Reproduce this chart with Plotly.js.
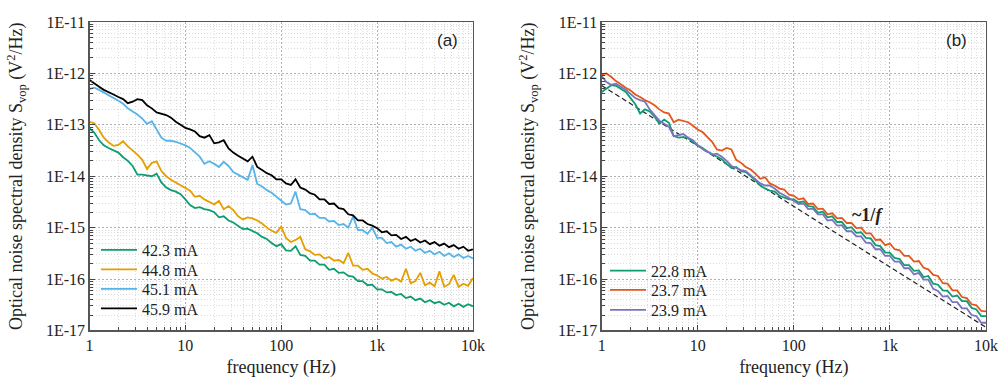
<!DOCTYPE html>
<html>
<head>
<meta charset="utf-8">
<script src="https://cdn.plot.ly/plotly-3.0.1.min.js"></script>
<style>
  html, body { margin: 0; padding: 0; background: #fff; }
  #chart { width: 1008px; height: 379px; }
</style>
</head>
<body>
<div id="chart"></div>
<script>
// Frequency points (Hz)
const freq = [1, 1.12, 1.26, 1.41, 1.58, 1.78, 2, 2.24, 2.51, 2.82, 3.16, 3.55, 3.98, 4.47, 5.01, 5.62, 6.31, 7.08, 7.94, 8.91,
  10, 11.2, 12.6, 14.1, 15.8, 17.8, 20, 22.4, 25.1, 28.2, 31.6, 35.5, 39.8, 44.7, 50.1, 56.2, 63.1, 70.8, 79.4, 89.1,
  100, 112, 126, 141, 158, 178, 200, 224, 251, 282, 316, 355, 398, 447, 501, 562, 631, 708, 794, 891,
  1000, 1120, 1260, 1410, 1580, 1780, 2000, 2240, 2510, 2820, 3160, 3550, 3980, 4470, 5010, 5620, 6310, 7080, 7940, 8910, 10000];

// Panel (a): log10 of S_vop (V^2/Hz)
const a_labels = ['42.3 mA', '44.8 mA', '45.1 mA', '45.9 mA'];
const a_423 = [-13.07,-13.15,-13.30,-13.40,-13.45,-13.49,-13.54,-13.63,-13.70,-13.80,-13.97,-13.97,-13.99,-14.00,-13.95,-14.12,-14.22,-14.27,-14.30,-14.35,
  -14.45,-14.56,-14.62,-14.60,-14.64,-14.66,-14.70,-14.80,-14.78,-14.86,-14.90,-14.96,-15.03,-15.02,-15.06,-15.11,-15.18,-15.22,-15.30,-15.36,
  -15.32,-15.44,-15.45,-15.36,-15.53,-15.55,-15.64,-15.64,-15.72,-15.72,-15.82,-15.80,-15.88,-15.87,-15.94,-15.95,-16.04,-16.04,-16.12,-16.11,
  -16.20,-16.20,-16.26,-16.25,-16.31,-16.29,-16.37,-16.34,-16.41,-16.38,-16.45,-16.41,-16.47,-16.44,-16.50,-16.46,-16.53,-16.48,-16.54,-16.49,-16.53];
const a_448 = [-12.94,-12.97,-13.10,-13.25,-13.34,-13.41,-13.39,-13.32,-13.42,-13.50,-13.58,-13.68,-13.86,-13.74,-13.71,-13.90,-14.00,-14.07,-14.12,-14.18,
  -14.22,-14.28,-14.40,-14.38,-14.45,-14.50,-14.55,-14.48,-14.64,-14.58,-14.66,-14.78,-14.84,-14.80,-14.82,-14.86,-14.92,-15.00,-15.06,-15.10,
  -14.98,-15.20,-15.28,-15.24,-15.18,-15.42,-15.46,-15.53,-15.52,-15.60,-15.57,-15.64,-15.63,-15.69,-15.49,-15.74,-15.74,-15.82,-15.80,-15.89,
  -15.93,-15.99,-15.96,-16.03,-15.99,-16.05,-15.80,-16.08,-16.04,-15.88,-16.12,-16.07,-16.14,-15.85,-16.15,-16.10,-15.92,-16.15,-16.09,-16.13,-15.98];
const a_451 = [-12.30,-12.28,-12.32,-12.37,-12.41,-12.47,-12.53,-12.59,-12.68,-12.74,-12.80,-12.88,-12.98,-12.93,-13.10,-13.25,-13.31,-13.31,-13.33,-13.36,
  -13.40,-13.45,-13.53,-13.62,-13.76,-13.71,-13.76,-13.82,-13.72,-13.80,-13.92,-13.97,-14.03,-14.07,-13.78,-14.15,-14.20,-14.27,-14.32,-14.40,
  -14.48,-14.55,-14.53,-14.30,-14.64,-14.66,-14.74,-14.73,-14.81,-14.81,-14.88,-14.87,-14.95,-14.93,-15.00,-14.78,-15.05,-15.05,-15.12,-15.00,
  -15.20,-15.20,-15.30,-15.28,-15.37,-15.33,-15.41,-15.37,-15.45,-15.41,-15.49,-15.45,-15.52,-15.47,-15.55,-15.50,-15.57,-15.52,-15.59,-15.55,-15.60];
const a_459 = [-12.13,-12.20,-12.26,-12.32,-12.36,-12.41,-12.46,-12.50,-12.58,-12.55,-12.50,-12.52,-12.62,-12.68,-12.76,-12.79,-12.81,-12.86,-12.94,-13.00,
  -13.06,-13.09,-13.13,-13.22,-13.25,-13.20,-13.36,-13.34,-13.30,-13.46,-13.54,-13.60,-13.66,-13.71,-13.62,-13.82,-13.88,-13.94,-13.98,-14.06,
  -14.06,-14.14,-14.17,-14.06,-14.22,-14.26,-14.33,-14.36,-14.45,-14.45,-14.54,-14.53,-14.62,-14.64,-14.74,-14.76,-14.86,-14.86,-14.93,-14.96,
  -15.01,-15.09,-15.07,-15.15,-15.14,-15.22,-15.18,-15.26,-15.22,-15.29,-15.25,-15.32,-15.28,-15.35,-15.31,-15.38,-15.34,-15.41,-15.37,-15.45,-15.42];

// Panel (b): log10 of S_vop (V^2/Hz)
const b_labels = ['22.8 mA', '23.7 mA', '23.9 mA'];
const b_228 = [-12.36,-12.29,-12.23,-12.24,-12.30,-12.36,-12.48,-12.60,-12.78,-12.70,-12.74,-12.84,-12.98,-12.90,-12.96,-13.22,-13.25,-13.24,-13.26,-13.34,
  -13.40,-13.45,-13.52,-13.57,-13.62,-13.67,-13.76,-13.84,-13.82,-13.90,-13.92,-14.00,-14.08,-14.18,-14.24,-14.28,-14.30,-14.38,-14.42,-14.45,
  -14.45,-14.51,-14.49,-14.58,-14.59,-14.71,-14.69,-14.80,-14.78,-14.89,-14.89,-15.01,-14.99,-15.10,-15.09,-15.20,-15.21,-15.34,-15.36,-15.48,
  -15.49,-15.59,-15.61,-15.73,-15.73,-15.84,-15.83,-15.96,-15.94,-16.09,-16.11,-16.22,-16.23,-16.34,-16.32,-16.43,-16.43,-16.56,-16.59,-16.72,-16.72];
const b_237 = [-12.02,-12.00,-12.07,-12.15,-12.21,-12.28,-12.33,-12.41,-12.46,-12.52,-12.56,-12.62,-12.70,-12.76,-12.78,-12.95,-12.90,-12.92,-12.95,-13.02,
  -13.09,-13.14,-13.24,-13.33,-13.48,-13.50,-13.45,-13.48,-13.68,-13.74,-13.82,-13.87,-13.95,-14.05,-14.02,-14.14,-14.18,-14.24,-14.26,-14.36,
  -14.38,-14.45,-14.43,-14.54,-14.53,-14.64,-14.63,-14.74,-14.72,-14.82,-14.81,-14.91,-14.91,-15.01,-15.00,-15.11,-15.11,-15.24,-15.23,-15.34,
  -15.31,-15.42,-15.44,-15.55,-15.55,-15.66,-15.65,-15.78,-15.81,-15.92,-15.94,-16.08,-16.09,-16.22,-16.22,-16.35,-16.37,-16.49,-16.51,-16.62,-16.63];
const b_239 = [-12.05,-12.17,-12.22,-12.20,-12.26,-12.32,-12.40,-12.48,-12.52,-12.55,-12.70,-12.82,-12.92,-12.98,-13.04,-13.22,-13.20,-13.18,-13.25,-13.30,
  -13.40,-13.47,-13.52,-13.58,-13.56,-13.62,-13.70,-13.80,-13.84,-13.88,-13.90,-13.98,-14.06,-14.14,-14.18,-14.18,-14.24,-14.32,-14.37,-14.42,
  -14.48,-14.54,-14.53,-14.64,-14.63,-14.74,-14.74,-14.86,-14.85,-14.96,-14.95,-15.07,-15.07,-15.17,-15.17,-15.29,-15.30,-15.42,-15.42,-15.55,
  -15.55,-15.66,-15.66,-15.79,-15.79,-15.91,-15.88,-16.01,-16.01,-16.19,-16.23,-16.34,-16.33,-16.45,-16.45,-16.57,-16.57,-16.70,-16.72,-16.85,-16.85];

// ~1/f guide line (endpoints)
const guide_freq = [1, 10000];
const guide_val = [5.8e-13, 1.15e-17];

const xTickVals = [1, 10, 100, 1000, 10000];
const xTickText = ['1', '10', '100', '1k', '10k'];
const yTickVals = [1e-17, 1e-16, 1e-15, 1e-14, 1e-13, 1e-12, 1e-11];
const yTickText = ['1E-17', '1E-16', '1E-15', '1E-14', '1E-13', '1E-12', '1E-11'];

const toLin = a => a.map(v => Math.pow(10, v));

const xMinor = [];
for (let d = 1; d < 10000; d *= 10) for (let m = 2; m <= 9; m++) xMinor.push(m * d);
const yMinor = [];
for (let e = -17; e < -11; e++) for (let m = 2; m <= 9; m++) yMinor.push(m * Math.pow(10, e));

const serif = 'Liberation Serif, Times New Roman, serif';
const FONT = { family: serif, size: 16, color: '#222' };
const TFONT = { family: serif, size: 18, color: '#222' };

const colA = ['#0E9C72', '#E69F00', '#56B4E9', '#000000'];
const colB = ['#0E9C72', '#E4571C', '#7A74BD'];

// one legend box per entry so the row spacing matches the figure
const legA = ['legend', 'legend2', 'legend3', 'legend4'];
const legB = ['legend5', 'legend6', 'legend7'];

const traces = [];
[a_423, a_448, a_451, a_459].forEach((s, i) => {
  traces.push({ x: freq, y: toLin(s), type: 'scatter', mode: 'lines', name: a_labels[i],
    line: { color: colA[i], width: 1.8 }, xaxis: 'x', yaxis: 'y', legend: legA[i] });
});
traces.push({ x: guide_freq, y: guide_val, type: 'scatter', mode: 'lines', showlegend: false,
  line: { color: '#222', width: 1.2, dash: '5px,3px' }, xaxis: 'x2', yaxis: 'y2', hoverinfo: 'skip' });
[b_228, b_237, b_239].forEach((s, i) => {
  traces.push({ x: freq, y: toLin(s), type: 'scatter', mode: 'lines', name: b_labels[i],
    line: { color: colB[i], width: 1.8 }, xaxis: 'x2', yaxis: 'y2', legend: legB[i] });
});

function xAxis(domain, anchor) {
  return {
    type: 'log', range: [0, 4], domain: domain, anchor: anchor,
    tickmode: 'array', tickvals: xTickVals, ticktext: xTickText,
    ticks: 'inside', ticklen: 5, tickcolor: '#444',
    showline: true, mirror: true, linecolor: '#555', linewidth: 1.3,
    showgrid: true, gridcolor: '#b0b0b0', griddash: '2px,2px', gridwidth: 1,
    minor: { tickmode: 'array', tickvals: xMinor, ticks: 'inside', ticklen: 3, tickcolor: '#444',
      showgrid: true, gridcolor: '#dcdcdc', griddash: '1px,2px', gridwidth: 1 },
    tickfont: FONT, zeroline: false,
    title: { text: 'frequency (Hz)', font: TFONT, standoff: 7 },
    automargin: false
  };
}
function yAxis(domain, anchor) {
  return {
    type: 'log', range: [-17, -11], domain: domain, anchor: anchor,
    tickmode: 'array', tickvals: yTickVals, ticktext: yTickText,
    ticks: 'inside', ticklen: 5, tickcolor: '#444',
    showline: true, mirror: true, linecolor: '#555', linewidth: 1.3,
    showgrid: true, gridcolor: '#b0b0b0', griddash: '2px,2px', gridwidth: 1,
    minor: { tickmode: 'array', tickvals: yMinor, ticks: 'inside', ticklen: 3, tickcolor: '#444',
      showgrid: true, gridcolor: '#dcdcdc', griddash: '1px,2px', gridwidth: 1 },
    tickfont: FONT, zeroline: false,
    title: { text: 'Optical noise spectral density S<sub>vop</sub> (V<sup>2</sup>/Hz)', font: TFONT, standoff: 18 },
    automargin: false
  };
}

function legendBox(xp, yp) {
  return { x: xp, y: yp, xanchor: 'left', yanchor: 'top', bgcolor: 'rgba(255,255,255,0)',
    borderwidth: 0, font: FONT, itemwidth: 36 };
}

const yDom = [0.128, 0.942];
const layout = {
  width: 1008, height: 379,
  margin: { l: 0, r: 0, t: 0, b: 0 },
  paper_bgcolor: '#ffffff', plot_bgcolor: '#ffffff',
  font: FONT,
  xaxis: xAxis([0.0888, 0.4692], 'y'),
  yaxis: yAxis(yDom, 'x'),
  xaxis2: xAxis([0.5969, 0.9782], 'y2'),
  yaxis2: yAxis(yDom, 'x2'),
  legend: legendBox(0.0952, 0.3852),
  legend2: legendBox(0.0952, 0.3338),
  legend3: legendBox(0.0952, 0.2823),
  legend4: legendBox(0.0952, 0.2309),
  legend5: legendBox(0.6002, 0.3306),
  legend6: legendBox(0.6002, 0.2797),
  legend7: legendBox(0.6002, 0.2269),
  annotations: [
    { text: '(a)', xref: 'paper', yref: 'paper', x: 0.4435, y: 0.892, xanchor: 'center', yanchor: 'middle', showarrow: false,
      font: { family: 'Liberation Sans, Arial, sans-serif', size: 17, color: '#222' } },
    { text: '(b)', xref: 'paper', yref: 'paper', x: 0.9494, y: 0.892, xanchor: 'center', yanchor: 'middle', showarrow: false,
      font: { family: 'Liberation Sans, Arial, sans-serif', size: 17, color: '#222' } },
    { text: '<b>~1/<i>f</i></b>', xref: 'paper', yref: 'paper', x: 0.861, y: 0.433, xanchor: 'center', yanchor: 'middle', showarrow: false,
      font: { family: serif, size: 18, color: '#222' } }
  ],
  showlegend: true
};

Plotly.newPlot('chart', traces, layout, { displayModeBar: false, staticPlot: true });
</script>
</body>
</html>
